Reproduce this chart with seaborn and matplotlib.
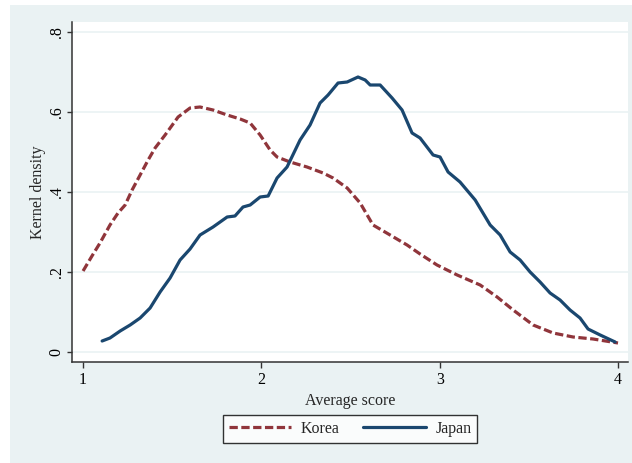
import numpy as np
import pandas as pd
import matplotlib
matplotlib.use('Agg')
import matplotlib.pyplot as plt
import seaborn as sns
from matplotlib.patches import Rectangle

# values
korea_x = [1.0, 1.050, 1.095, 1.151, 1.196, 1.236, 1.275, 1.320, 1.365, 1.404,
           1.460, 1.533, 1.600, 1.656, 1.729, 1.808, 1.881, 1.937, 1.993, 2.049,
           2.088, 2.161, 2.256, 2.346, 2.402, 2.481, 2.554, 2.626, 2.722, 2.817,
           2.890, 2.985, 3.098, 3.227, 3.322, 3.412, 3.524, 3.636, 3.748, 3.860, 4.0]
korea_y = [0.2025, 0.24, 0.2725, 0.3175, 0.3475, 0.3675, 0.405, 0.4425, 0.48, 0.51,
           0.5425, 0.5875, 0.61, 0.6125, 0.605, 0.5925, 0.5825, 0.5725, 0.5425, 0.505,
           0.4875, 0.475, 0.4625, 0.4475, 0.435, 0.41, 0.3725, 0.3175, 0.2925, 0.2675,
           0.245, 0.2175, 0.1925, 0.1675, 0.1375, 0.105, 0.0675, 0.0475, 0.0375, 0.0325, 0.0225]

japan_x = [1.107, 1.151, 1.208, 1.264, 1.320, 1.376, 1.432, 1.488, 1.544, 1.600,
           1.656, 1.729, 1.808, 1.852, 1.897, 1.937, 1.993, 2.038, 2.088, 2.144,
           2.217, 2.273, 2.329, 2.374, 2.430, 2.481, 2.542, 2.582, 2.610, 2.666,
           2.733, 2.789, 2.845, 2.890, 2.963, 3.002, 3.047, 3.114, 3.199, 3.283,
           3.339, 3.395, 3.451, 3.507, 3.563, 3.619, 3.675, 3.731, 3.787, 3.832,
           3.900, 3.984]
japan_y = [0.0275, 0.035, 0.0525, 0.0675, 0.085, 0.11, 0.15, 0.185, 0.23, 0.2575,
           0.2925, 0.3125, 0.3375, 0.34, 0.3625, 0.3675, 0.3875, 0.39, 0.435, 0.4625,
           0.53, 0.5675, 0.6225, 0.6425, 0.6725, 0.675, 0.6875, 0.68, 0.6675, 0.6675,
           0.635, 0.605, 0.5475, 0.535, 0.4925, 0.4875, 0.45, 0.425, 0.38, 0.3175,
           0.2925, 0.25, 0.23, 0.20, 0.175, 0.1475, 0.13, 0.105, 0.085, 0.0575,
           0.0425, 0.025]

x_ticks = [1, 2, 3, 4]
y_ticks = [0, 0.2, 0.4, 0.6, 0.8]
y_ticklabels = ['0', '.2', '.4', '.6', '.8']

navy = '#1A476F'
maroon = '#90353B'
bg = '#EAF2F3'

sns.set_style('ticks')
plt.rcParams['font.family'] = ['Liberation Serif', 'DejaVu Serif']

W, H = 632, 463
fig = plt.figure(figsize=(W / 100, H / 100), dpi=100, facecolor='white')
fig.patches.append(Rectangle((10 / W, 0), 1, (H - 5) / H, transform=fig.transFigure,
                             facecolor=bg, edgecolor='none', zorder=-10))
ax = fig.add_axes([72 / W, (H - 362) / H, (628 - 72) / W, (362 - 22) / H])
ax.set_facecolor('white')

korea = pd.DataFrame({'x': korea_x, 'y': korea_y})
japan = pd.DataFrame({'x': japan_x, 'y': japan_y})

sns.lineplot(data=korea, x='x', y='y', ax=ax, color=maroon, lw=2.3, sort=False,
             estimator=None, label='Korea', dashes=False)
sns.lineplot(data=japan, x='x', y='y', ax=ax, color=navy, lw=2.3, sort=False,
             estimator=None, label='Japan')
ax.lines[0].set_dashes((2.6, 1.1))

ax.set_xlim(0.938, 4.056)
ax.set_ylim(-0.025, 0.825)
ax.set_xticks(x_ticks)
ax.set_yticks(y_ticks)
ax.set_yticklabels(y_ticklabels, rotation=90, va='center')
ax.tick_params(axis='both', width=1, color='#333333', labelsize=11.5,
               labelcolor='black')
ax.tick_params(axis='y', length=3.8, pad=1.5)
ax.tick_params(axis='x', length=4.5, pad=3)
for y in y_ticks:
    ax.axhline(y, color=bg, lw=1.2, zorder=0)
for s in ['top', 'right']:
    ax.spines[s].set_visible(False)
for s in ['left', 'bottom']:
    ax.spines[s].set_color('#333333')
    ax.spines[s].set_linewidth(1.1)

ax.set_xlabel('Average score', fontsize=11.5, labelpad=3)
ax.set_ylabel('Kernel density', fontsize=11.5, labelpad=2)

leg = ax.legend(loc='center', bbox_to_anchor=(350 / W, (H - 429) / H),
                bbox_transform=fig.transFigure, ncol=2, fontsize=11.5,
                frameon=True, fancybox=False, handlelength=3.9, columnspacing=1.5,
                borderpad=0.35, handletextpad=0.6, borderaxespad=0)
leg.get_frame().set_edgecolor('black')
leg.get_frame().set_linewidth(1.0)
leg.get_frame().set_facecolor('white')

fig.savefig('out.png', dpi=100, facecolor=fig.get_facecolor())
